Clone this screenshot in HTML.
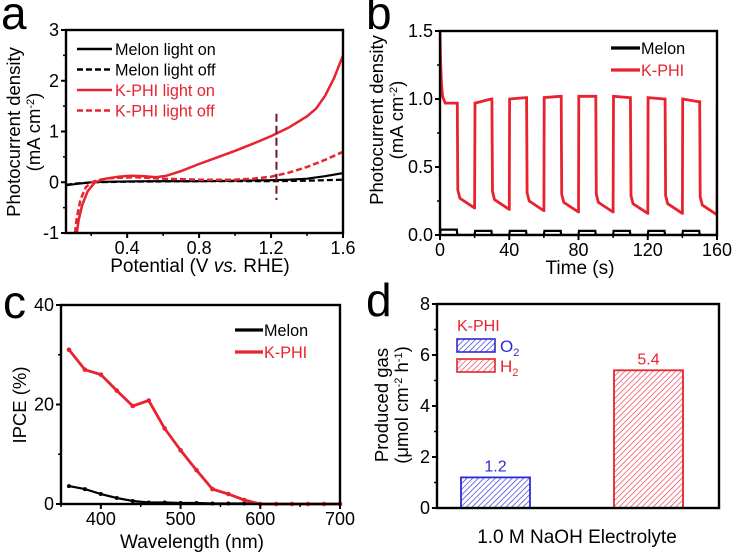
<!DOCTYPE html>
<html><head><meta charset="utf-8"><style>
html,body{margin:0;padding:0;background:#fff;}
svg{display:block;font-family:"Liberation Sans",Arial,sans-serif;}
</style></head><body>
<svg id="fig" width="734" height="556" viewBox="0 0 734 556" xmlns="http://www.w3.org/2000/svg">
<defs>
<pattern id="hatchB" width="4" height="4" patternUnits="userSpaceOnUse" patternTransform="rotate(45)"><rect width="4" height="4" fill="#fff"/><line x1="0" y1="0" x2="0" y2="4" stroke="#2b2bd6" stroke-width="1.3"/></pattern>
<pattern id="hatchR" width="4" height="4" patternUnits="userSpaceOnUse" patternTransform="rotate(45)"><rect width="4" height="4" fill="#fff"/><line x1="0" y1="0" x2="0" y2="4" stroke="#e8344a" stroke-width="1.3"/></pattern>
</defs>
</svg>
<script>
// ---- Panel a data ----
const aMelonOnX=[0.06,0.1,0.15,0.2,0.3,0.5,0.8,1.0,1.2,1.3,1.4,1.5,1.6];
const aMelonOnY=[-0.06,-0.04,-0.02,0.0,0.01,0.02,0.02,0.03,0.04,0.05,0.07,0.12,0.18];
const aMelonOffX=[0.06,0.1,0.2,0.4,0.8,1.2,1.4,1.6];
const aMelonOffY=[-0.05,-0.03,0.0,0.01,0.02,0.02,0.03,0.05];
const aKOnX=[0.12,0.13,0.15,0.18,0.22,0.28,0.35,0.42,0.5,0.56,0.62,0.7,0.8,0.9,1.0,1.1,1.2,1.3,1.4,1.45,1.5,1.55,1.6];
const aKOnY=[-1.0,-0.75,-0.45,-0.18,0.0,0.07,0.11,0.13,0.12,0.1,0.13,0.22,0.36,0.49,0.62,0.76,0.91,1.08,1.3,1.45,1.7,2.05,2.5];
const aKOffX=[0.11,0.12,0.14,0.17,0.2,0.25,0.3,0.45,0.6,0.8,1.0,1.1,1.2,1.3,1.4,1.5,1.6];
const aKOffY=[-1.0,-0.7,-0.35,-0.1,0.0,0.05,0.08,0.1,0.07,0.05,0.05,0.07,0.11,0.19,0.3,0.44,0.6];
const aXTicks=[0.4,0.8,1.2,1.6];
const aYTicks=[-1,0,1,2,3];
// ---- Panel b data ----
const bOnStart=[1.5,0.97,1.0,1.01,1.02,1.02,1.01,1.0,0.99];
const bOnEnd=[0.97,1.0,1.01,1.02,1.02,1.01,1.0,0.98,0.97];
const bOffStart=[0.27,0.26,0.25,0.24,0.24,0.23,0.23,0.22];
const bOffEnd=[0.2,0.19,0.18,0.17,0.17,0.16,0.16,0.15];
const bMelonOn=[0.04,0.03,0.03,0.03,0.03,0.03,0.03,0.03];
const bMelonOff=[0.0,0.0,0.0,0.0,0.0,0.0,0.0,0.0];
const bXTicks=[0,40,80,120,160];
const bYTicks=[0.0,0.5,1.0,1.5];
// ---- Panel c data ----
const cWave=[360,380,400,420,440,460,480,500,520,540,560,580,600,620,640,660,680,700];
const cKPHI=[31,27,26,22.8,19.7,20.8,15.2,10.8,6.8,3.0,2.0,0.8,0,0,0,0,0,0];
const cMelon=[3.6,3.0,2.0,1.2,0.6,0.3,0.3,0.2,0.2,0.1,0.1,0.1,0,0,0,0,0,0];
const cXTicks=[400,500,600,700];
const cYTicks=[0,20,40];
// ---- Panel d data ----
const dGases=["O2","H2"];
const dValues=[1.2,5.4];
const dYTicks=[0,2,4,6,8];

const svg=document.getElementById('fig');
const NS='http://www.w3.org/2000/svg';
function mk(tag,attrs,parent){const e=document.createElementNS(NS,tag);for(const k in attrs)e.setAttribute(k,attrs[k]);(parent||svg).appendChild(e);return e;}
function txt(x,y,s,size,fill,anchor,parent){const t=mk('text',{x:x,y:y,'font-size':size,fill:fill||'#000','text-anchor':anchor||'middle'},parent);t.textContent=s;return t;}
function lin(d0,d1,r0,r1){return v=>r0+(v-d0)*(r1-r0)/(d1-d0);}
function pathFrom(xs,ys,sx,sy){return xs.map((v,i)=>(i?'L':'M')+sx(v).toFixed(1)+','+sy(ys[i]).toFixed(1)).join('');}
function box(g,l,t,r,b){mk('rect',{x:l,y:t,width:r-l,height:b-t,fill:'none',stroke:'#000','stroke-width':2.4},g);}
function xticks(g,sx,b,ticks,fmt,minor){ticks.forEach(v=>{mk('line',{x1:sx(v),y1:b,x2:sx(v),y2:b+5,stroke:'#000','stroke-width':2},g);const t=txt(sx(v),b+21,fmt(v),18,'#000','middle',g);});
 (minor||[]).forEach(v=>mk('line',{x1:sx(v),y1:b,x2:sx(v),y2:b+3,stroke:'#000','stroke-width':1.5},g));}
function yticks(g,sy,l,ticks,fmt,minor){ticks.forEach(v=>{mk('line',{x1:l-5,y1:sy(v),x2:l,y2:sy(v),stroke:'#000','stroke-width':2},g);const t=txt(l-7,sy(v)+6,fmt(v),18,'#000','end',g);});
 (minor||[]).forEach(v=>mk('line',{x1:l-3,y1:sy(v),x2:l,y2:sy(v),stroke:'#000','stroke-width':1.5},g));}

// ================= Panel a =================
(function(){
const g=mk('g',{});
const L=66,R=343,T=30,B=233;
const sx=lin(0.06,1.6,L,R), sy=lin(-1,3,B,T);
const lab=txt(1,29,'a',46,'#000','start',g);
const cp=mk('clipPath',{id:'clipA'},g);mk('rect',{x:L,y:T,width:R-L,height:B-T},cp);
const pg=mk('g',{'clip-path':'url(#clipA)'},g);
let p;
p=mk('path',{d:pathFrom(aMelonOffX,aMelonOffY,sx,sy),fill:'none',stroke:'#000','stroke-width':2.2,'stroke-dasharray':'6,3'},pg);
p=mk('path',{d:pathFrom(aMelonOnX,aMelonOnY,sx,sy),fill:'none',stroke:'#000','stroke-width':2.2},pg);
p=mk('path',{d:pathFrom(aKOffX,aKOffY,sx,sy),fill:'none',stroke:'#e8222e','stroke-width':2.5,'stroke-dasharray':'6,3'},pg);
p=mk('path',{d:pathFrom(aKOnX,aKOnY,sx,sy),fill:'none',stroke:'#e8222e','stroke-width':2.5},pg);
p=mk('line',{x1:sx(1.23),y1:sy(1.35),x2:sx(1.23),y2:sy(-0.35),stroke:'#6b1a2a','stroke-width':2,'stroke-dasharray':'8,4'},g);
box(g,L,T,R,B);
xticks(g,sx,B,aXTicks,v=>v.toFixed(1),[0.2,0.6,1.0,1.4]);
yticks(g,sy,L,aYTicks,v=>String(v),[-0.5,0.5,1.5,2.5]);
const lg=[['Melon light on','#000',''],['Melon light off','#000','6,3'],['K-PHI light on','#e8222e',''],['K-PHI light off','#e8222e','6,3']];
lg.forEach((e,i)=>{const y=49+i*20.5;const gg=mk('g',{},g);
 mk('line',{x1:77,y1:y,x2:112,y2:y,stroke:e[1],'stroke-width':2.6,'stroke-dasharray':e[2]||'none'},gg);txt(115,y+6,e[0],16.2,e[1],'start',gg);});
let t=mk('text',{'font-size':18.5,'text-anchor':'middle',transform:'translate(20,132) rotate(-90)'},g);t.textContent='Photocurrent density';
t=mk('text',{'font-size':18.5,'text-anchor':'middle',transform:'translate(40,132) rotate(-90)'},g);t.innerHTML='(mA cm<tspan dy="-6" font-size="11">-2</tspan><tspan dy="6">)</tspan>';
t=mk('text',{x:200,y:272,'font-size':19,'text-anchor':'middle'},g);t.innerHTML='Potential (V <tspan font-style="italic">vs.</tspan> RHE)';
})();

// ================= Panel b =================
(function(){
const g=mk('g',{});
const L=440,R=717,T=31,B=235;
const sx=lin(0,160,L,R), sy=lin(0,1.5,B,T);
const lab=txt(366,29,'b',46,'#000','start',g);
let xs=[],ys=[];
for(let i=0;i<bOnStart.length;i++){const t0=20*i;
 if(i===0){[0,0.3,0.8,1.5,3,9.5].forEach(dt=>{xs.push(t0+dt);const f=dt<3?Math.exp(-dt*1.6):0;ys.push(bOnEnd[0]+(bOnStart[0]-bOnEnd[0])*f);});}
 else{xs.push(t0);ys.push(bOffEnd[i-1]);xs.push(t0+0.2);ys.push(bOnStart[i]);xs.push(t0+(i===8?0.2:9.5));ys.push(bOnEnd[i]);}
 if(i<bOffStart.length){xs.push(t0+10);ys.push(bOnEnd[i]);xs.push(t0+10.3);ys.push(bOffStart[i]+0.06);xs.push(t0+11.5);ys.push(bOffStart[i]);xs.push(t0+19.8);ys.push(bOffEnd[i]);}
}
let mx=[],my=[];
for(let i=0;i<bMelonOn.length;i++){const t0=20*i;mx.push(t0,t0+0.3,t0+9.7,t0+10,t0+19.8);my.push(bMelonOff[i],bMelonOn[i],bMelonOn[i],bMelonOff[i],bMelonOff[i]);}
mx.push(160);my.push(0.02);
const cp=mk('clipPath',{id:'clipB'},g);mk('rect',{x:L,y:T-2,width:R-L,height:B-T+2},cp);
const pg=mk('g',{'clip-path':'url(#clipB)'},g);
let p=mk('path',{d:pathFrom(mx,my,sx,sy),fill:'none',stroke:'#000','stroke-width':2.2},pg);
p=mk('path',{d:pathFrom(xs,ys,sx,sy),fill:'none',stroke:'#e8222e','stroke-width':2.8},pg);
box(g,L,T,R,B);
xticks(g,sx,B,bXTicks,v=>String(v),[20,60,100,140]);
yticks(g,sy,L,bYTicks,v=>v.toFixed(1),[0.25,0.75,1.25]);
[['Melon','#000'],['K-PHI','#e8222e']].forEach((e,i)=>{const y=48+i*22;const gg=mk('g',{},g);
 mk('line',{x1:611,y1:y,x2:640,y2:y,stroke:e[1],'stroke-width':3.2},gg);txt(641,y+6,e[0],16.2,e[1],'start',gg);});
let t=mk('text',{'font-size':18.5,'text-anchor':'middle',transform:'translate(383,120) rotate(-90)'},g);t.textContent='Photocurrent density';
t=mk('text',{'font-size':18.5,'text-anchor':'middle',transform:'translate(403,120) rotate(-90)'},g);t.innerHTML='(mA cm<tspan dy="-6" font-size="11">-2</tspan><tspan dy="6">)</tspan>';
t=txt(580,274,'Time (s)',19,'#000','middle',g);
})();

// ================= Panel c =================
(function(){
const g=mk('g',{});
const L=61,R=340,T=305,B=504;
const sx=lin(350,700,L,R), sy=lin(0,40,B,T);
const lab=txt(3,318,'c',46,'#000','start',g);
let p=mk('path',{d:pathFrom(cWave,cMelon,sx,sy),fill:'none',stroke:'#000','stroke-width':2.2},g);
cWave.forEach((w,i)=>{const c=mk('circle',{cx:sx(w),cy:sy(cMelon[i]),r:2,fill:'#000'},g);});
p=mk('path',{d:pathFrom(cWave,cKPHI,sx,sy),fill:'none',stroke:'#e8222e','stroke-width':2.8},g);
cWave.forEach((w,i)=>{const c=mk('circle',{cx:sx(w),cy:sy(cKPHI[i]),r:2.3,fill:'#e8222e'},g);});
box(g,L,T,R,B);
xticks(g,sx,B,cXTicks,v=>String(v),[350,450,550,650]);
yticks(g,sy,L,cYTicks,v=>String(v),[10,30]);
[['Melon','#000'],['K-PHI','#e8222e']].forEach((e,i)=>{const y=330+i*22;const gg=mk('g',{},g);
 mk('line',{x1:235,y1:y,x2:263,y2:y,stroke:e[1],'stroke-width':3.2},gg);txt(264,y+6,e[0],16.2,e[1],'start',gg);});
let t=mk('text',{'font-size':18.5,'text-anchor':'middle',transform:'translate(26,405) rotate(-90)'},g);t.textContent='IPCE (%)';
t=txt(192,548,'Wavelength (nm)',19,'#000','middle',g);
})();

// ================= Panel d =================
(function(){
const g=mk('g',{});
const L=437,R=719,T=304,B=508;
const sy=lin(0,8,B,T);
const barX=[461,614],barW=69;
const fills=['url(#hatchB)','url(#hatchR)'],strokes=['#2b2bd6','#e8222e'];
const lab=txt(366,316,'d',46,'#000','start',g);
dValues.forEach((v,i)=>{const r=mk('rect',{x:barX[i],y:sy(v),width:barW,height:B-sy(v),fill:fills[i],stroke:strokes[i],'stroke-width':1.8},g);
 const t=txt(barX[i]+barW/2,sy(v)-6,v.toFixed(1),16,strokes[i],'middle',g);});
box(g,L,T,R,B);
yticks(g,sy,L,dYTicks,v=>String(v),[1,3,5,7]);
let t=txt(457,331,'K-PHI',16,'#e8222e','start',g);
[['O','#2b2bd6','url(#hatchB)'],['H','#e8222e','url(#hatchR)']].forEach((e,i)=>{const y=339+i*20;const gg=mk('g',{},g);
 mk('rect',{x:457,y:y,width:38,height:13,fill:e[2],stroke:e[1],'stroke-width':1.6},gg);const tt=txt(500,y+13,'',17,e[1],'start',gg);tt.innerHTML=e[0]+'<tspan dy="4" font-size="11">2</tspan>';});
t=mk('text',{'font-size':18.5,'text-anchor':'middle',transform:'translate(388,405) rotate(-90)'},g);t.textContent='Produced gas';
t=mk('text',{'font-size':18.5,'text-anchor':'middle',transform:'translate(408,405) rotate(-90)'},g);t.innerHTML='(μmol cm<tspan dy="-6" font-size="11">-2</tspan><tspan dy="6"> h</tspan><tspan dy="-6" font-size="11">-1</tspan><tspan dy="6">)</tspan>';
t=txt(577,543,'1.0 M NaOH Electrolyte',19,'#000','middle',g);
})();
</script>
</body></html>
